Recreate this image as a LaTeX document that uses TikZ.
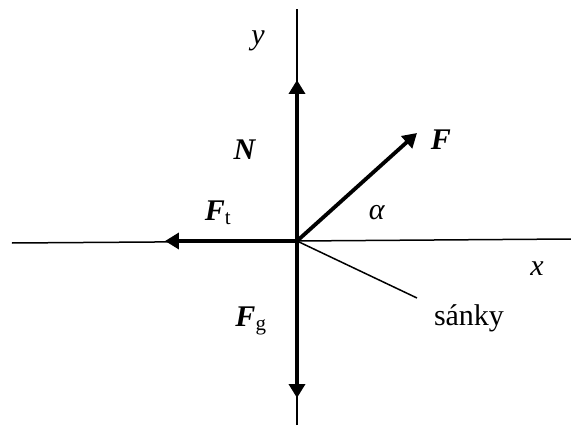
\documentclass[tikz,border=0pt]{standalone}
\usepackage{fontspec}
\setmainfont{Liberation Serif}
\usetikzlibrary{arrows.meta}
\begin{document}
\begin{tikzpicture}[
  x=1pt,
  y=1pt,
  axis/.style={draw=black,line width=1.5pt},
  force/.style={draw=black,line width=3.8pt,
    -{Triangle[length=14pt,width=16pt]}},
  lab/.style={font=\fontsize{30}{36}\selectfont,inner sep=0pt}
]
  \useasboundingbox (-297,-185) rectangle (274,241);
  % Axes and the sled.
  \coordinate (O) at (0,0);
  \coordinate (xl) at (-285,-2);
  \coordinate (xr) at (274,2);
  \coordinate (yb) at (0,-184);
  \coordinate (yt) at (0,232);
  \coordinate (sled) at (120,-57);
  \draw[axis] (xl) -- (O) -- (xr);
  \draw[axis] (yb) -- (yt);
  \draw[axis] (O) -- (sled);

  % Forces acting on the sled.
  \coordinate (Ntip) at (0,161);
  \coordinate (Ftip) at (120,108);
  \coordinate (Fttip) at (-132,0);
  \coordinate (Fgtip) at (0,-157);
  \draw[force] (O) -- (Ntip);
  \draw[force] (O) -- (Ftip);
  \draw[force] (O) -- (Fttip);
  \draw[force] (O) -- (Fgtip);

  % Labels.
  \node[lab] (ylab) at (-39,200) {\textit{y}};
  \node[lab] (xlab) at (240,-28) {\textit{x}};
  \node[lab] (Nlab) at (-52,91) {\textbf{\textit{N}}};
  \node[lab] (Flab) at (144,101) {\textbf{\textit{F}}};
  \node[lab] (Ftlab) at (-79,28) {\textbf{\textit{F}}\textsubscript{t}};
  \node[lab] (Fglab) at (-46,-80) {\textbf{\textit{F}}\textsubscript{g}};
  \node[lab] (alab) at (80,28) {\textit{α}};
  \node[lab] (sledlab) at (172,-77) {sánky};
\end{tikzpicture}
\end{document}
